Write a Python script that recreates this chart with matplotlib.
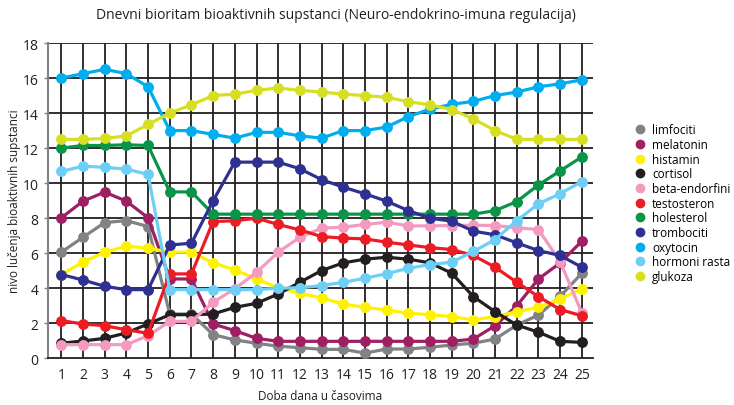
import numpy as np
import matplotlib
matplotlib.use("Agg")
import matplotlib.pyplot as plt
from matplotlib.lines import Line2D

plt.rcParams['font.family'] = ['Open Sans', 'DejaVu Sans']

# sati u danu
hours = list(range(1, 26))

limfociti = [6.06, 6.91, 7.75, 7.86, 7.52, 2.53, 2.53, 1.35, 1.05, 0.86, 0.69, 0.61, 0.51,
             0.51, 0.30, 0.53, 0.53, 0.63, 0.76, 0.86, 1.10, 1.90, 2.47, 3.54, 4.86]
melatonin = [8.02, 8.97, 9.49, 8.97, 8.02, 4.53, 4.53, 1.96, 1.58, 1.14, 0.97, 0.97, 0.97,
             0.97, 0.97, 0.97, 0.97, 0.97, 0.97, 1.10, 1.86, 3.00, 4.53, 5.45, 6.69]
histamin = [4.78, 5.49, 6.06, 6.40, 6.29, 6.06, 6.06, 5.45, 5.05, 4.53, 4.02, 3.71, 3.45,
            3.10, 2.91, 2.76, 2.57, 2.49, 2.38, 2.19, 2.38, 2.66, 2.91, 3.39, 3.96]
cortisol = [0.86, 0.99, 1.14, 1.45, 1.96, 2.49, 2.49, 2.53, 2.91, 3.14, 3.67, 4.34, 5.01,
            5.45, 5.66, 5.77, 5.66, 5.45, 4.86, 3.52, 2.66, 1.90, 1.49, 0.97, 0.91]
beta_endorfini = [0.78, 0.78, 0.78, 0.78, 1.29, 2.11, 2.11, 3.20, 3.97, 4.91, 6.06, 6.91, 7.43,
                  7.49, 7.64, 7.77, 7.56, 7.56, 7.58, 7.60, 7.58, 7.45, 7.35, 5.52, 2.59]
testosteron = [2.15, 1.96, 1.86, 1.63, 1.43, 4.82, 4.82, 7.81, 7.85, 8.00, 7.64, 7.33, 6.95,
               6.86, 6.82, 6.63, 6.47, 6.32, 6.21, 5.87, 5.20, 4.34, 3.52, 2.78, 2.43]
holesterol = [12.0, 12.15, 12.15, 12.19, 12.15, 9.5, 9.5, 8.23, 8.23, 8.23, 8.23, 8.23, 8.23,
              8.23, 8.23, 8.23, 8.23, 8.23, 8.23, 8.23, 8.43, 8.95, 9.9, 10.7, 11.5]
trombociti = [4.78, 4.47, 4.11, 3.92, 3.92, 6.47, 6.57, 9.0, 11.2, 11.2, 11.2, 10.82, 10.2,
              9.77, 9.39, 8.97, 8.43, 8.0, 7.83, 7.26, 7.05, 6.59, 6.15, 5.87, 5.2]
oxytocin = [16.0, 16.25, 16.5, 16.25, 15.5, 13.0, 13.0, 12.78, 12.57, 12.9, 12.9, 12.7, 12.57,
            13.0, 13.0, 13.2, 13.8, 14.22, 14.5, 14.67, 15.0, 15.2, 15.5, 15.67, 15.9]
hormoni_rasta = [10.67, 10.97, 10.9, 10.8, 10.5, 3.92, 3.92, 3.92, 3.92, 3.92, 4.0, 4.03, 4.15,
                 4.34, 4.57, 4.83, 5.14, 5.35, 5.49, 6.1, 6.78, 7.86, 8.82, 9.4, 10.09]
glukoza = [12.5, 12.5, 12.55, 12.7, 13.35, 14.0, 14.47, 15.0, 15.08, 15.3, 15.43, 15.3, 15.2,
           15.08, 15.0, 14.9, 14.65, 14.47, 14.2, 13.67, 13.0, 12.5, 12.5, 12.5, 12.5]

names = ['limfociti', 'melatonin', 'histamin', 'cortisol', 'beta-endorfini', 'testosteron',
         'holesterol', 'trombociti', 'oxytocin', 'hormoni rasta', 'glukoza']
series = [limfociti, melatonin, histamin, cortisol, beta_endorfini, testosteron,
          holesterol, trombociti, oxytocin, hormoni_rasta, glukoza]
colors = ['#808285', '#9E1F63', '#FFF200', '#231F20', '#F49AC1', '#ED1C24',
          '#0A9447', '#2E3192', '#00AEEF', '#6DCFF6', '#D7DF23']

fig = plt.figure(figsize=(7.34, 4.06), dpi=100)
ax = fig.add_axes([0.0658, 0.115, 0.7417, 0.7766])

# mreza
for h in hours:
    ax.plot([h, h], [0, 18], color='#231F20', lw=1.3, zorder=1)
for v in range(2, 19, 2):
    ax.axhline(v, color='#231F20', lw=1.3, zorder=1)

for name, vals, c in zip(names, series, colors):
    ax.plot(hours, vals, '-o', color=c, lw=2.3, markersize=6.8, label=name, zorder=3,
            solid_capstyle='round')

ax.set_xlim(0.4, 25.5)
ax.set_ylim(0, 18)
ax.set_xticks(hours)
ax.set_yticks(range(0, 19, 2))
ax.tick_params(axis='x', length=0, pad=6, labelsize=10, labelcolor='#231F20')
ax.tick_params(axis='y', length=3, width=1, color='#808285', pad=4, labelsize=10,
               labelcolor='#231F20')
for s in ['top', 'right']:
    ax.spines[s].set_visible(False)
ax.spines['left'].set_color('#808285')
ax.spines['left'].set_linewidth(1.5)
ax.spines['bottom'].set_color('#231F20')
ax.spines['bottom'].set_linewidth(1.3)

ax.set_xlabel('Doba dana u časovima', fontsize=8.5, color='#231F20', labelpad=5)
ax.set_ylabel('nivo lučenja bioaktivnih supstanci', fontsize=8.5, color='#231F20', labelpad=1)
fig.text(0.458, 0.963, 'Dnevni bioritam bioaktivnih supstanci (Neuro-endokrino-imuna regulacija)',
         ha='center', va='center', fontsize=10, color='#231F20')

handles = [Line2D([], [], ls='', marker='o', color=c, markersize=6) for c in colors]
fig.legend(handles, names, loc='upper left', bbox_to_anchor=(0.858, 0.705), frameon=False,
           fontsize=8.5, handletextpad=0.5, labelspacing=0.14, handlelength=1.0,
           borderaxespad=0)

fig.savefig('out.png', dpi=100)
